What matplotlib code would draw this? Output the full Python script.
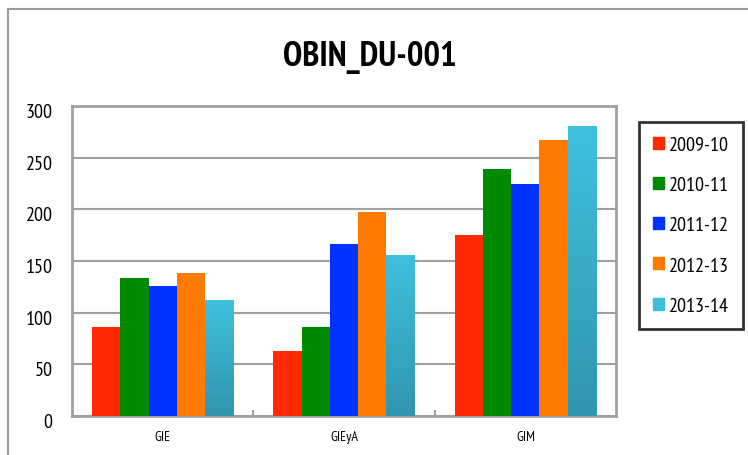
import matplotlib.pyplot as plt
import numpy as np
from matplotlib.patches import Rectangle
from matplotlib.colors import LinearSegmentedColormap
from matplotlib.transforms import ScaledTranslation

plt.rcParams['font.family'] = ['PT Sans Narrow', 'Roboto Condensed', 'Liberation Sans', 'DejaVu Sans']

categories = ['GIE', 'GIEyA', 'GIM']
years = ['2009-10', '2010-11', '2011-12', '2012-13', '2013-14']
v2009 = [86, 63, 175]
v2010 = [134, 86, 239]
v2011 = [126, 166, 225]
v2012 = [138, 197, 267]
v2013 = [112, 156, 281]
series = [v2009, v2010, v2011, v2012, v2013]
colors = ['#FF2A00', '#008A00', '#0033FF', '#FF7A00', '#3EBEDD']

fig = plt.figure(figsize=(7.48, 4.56), dpi=100)
# outer chart frame, cut off at the right and bottom edges
fig.patches.append(Rectangle((8 / 748, -0.1), 1.2, 1 - 10 / 456 + 0.1, transform=fig.transFigure,
                             fill=False, edgecolor='#9a9a9a', linewidth=1.5))

ax = fig.add_axes([72 / 748, 39 / 456, 544 / 748, 310 / 456])
x = np.arange(len(categories))
w = 0.156
grad = LinearSegmentedColormap.from_list('cy', ['#3096AE', '#40C0DE'])
handles = []
for i, (vals, c) in enumerate(zip(series, colors)):
    pos = x + (i - 2) * w
    bars = ax.bar(pos, vals, width=w, color=c, zorder=3, label=years[i])
    if i == 4:
        # last series has a vertical gradient fill
        for b in bars:
            b.set_facecolor('none')
            b.set_edgecolor('none')
            bx, by = b.get_x(), b.get_height()
            g = np.linspace(0, 1, 100).reshape(-1, 1)
            im = ax.imshow(g, cmap=grad, origin='lower', aspect='auto',
                           extent=[bx, bx + w, 0, by], zorder=3)
            im.set_clip_path(b)
    handles.append(Rectangle((0, 0), 1, 1, color=c))

ax.set_xlim(-0.5, 2.5)
ax.set_ylim(0, 300)
ax.set_yticks(range(0, 301, 50))
ax.yaxis.grid(True, color='#a0a0a0', linewidth=1.5, zorder=0)
ax.set_axisbelow(True)
ax.set_xticks(x)
ax.set_xticklabels(categories, fontsize=10)
ax.set_xticks([0.5, 1.5], minor=True)
ax.tick_params(axis='x', which='major', length=0, pad=10)
ax.tick_params(axis='x', which='minor', length=4, direction='in', color='#a0a0a0', width=1.5)
ax.tick_params(axis='y', length=0, pad=14, labelsize=14.5)
shift = ScaledTranslation(0, -4 / 100, fig.dpi_scale_trans)
for lab in ax.get_yticklabels():
    lab.set_transform(lab.get_transform() + shift)
for s in ax.spines.values():
    s.set_color('#a0a0a0')
    s.set_linewidth(2)

fig.text(370 / 748, 1 - 58 / 456, 'OBIN_DU-001', ha='center', va='center',
         fontsize=25, fontweight='bold')

leg = fig.legend(handles, years, loc='upper left', bbox_to_anchor=(639 / 748, 1 - 123 / 456),
                 fontsize=14.5, frameon=True, fancybox=False, handlelength=0.55, handleheight=0.55,
                 handletextpad=0.25, labelspacing=1.1, borderpad=0.7, borderaxespad=0)
leg.get_frame().set_edgecolor('black')
leg.get_frame().set_linewidth(2)

fig.savefig('out.png', dpi=100)
